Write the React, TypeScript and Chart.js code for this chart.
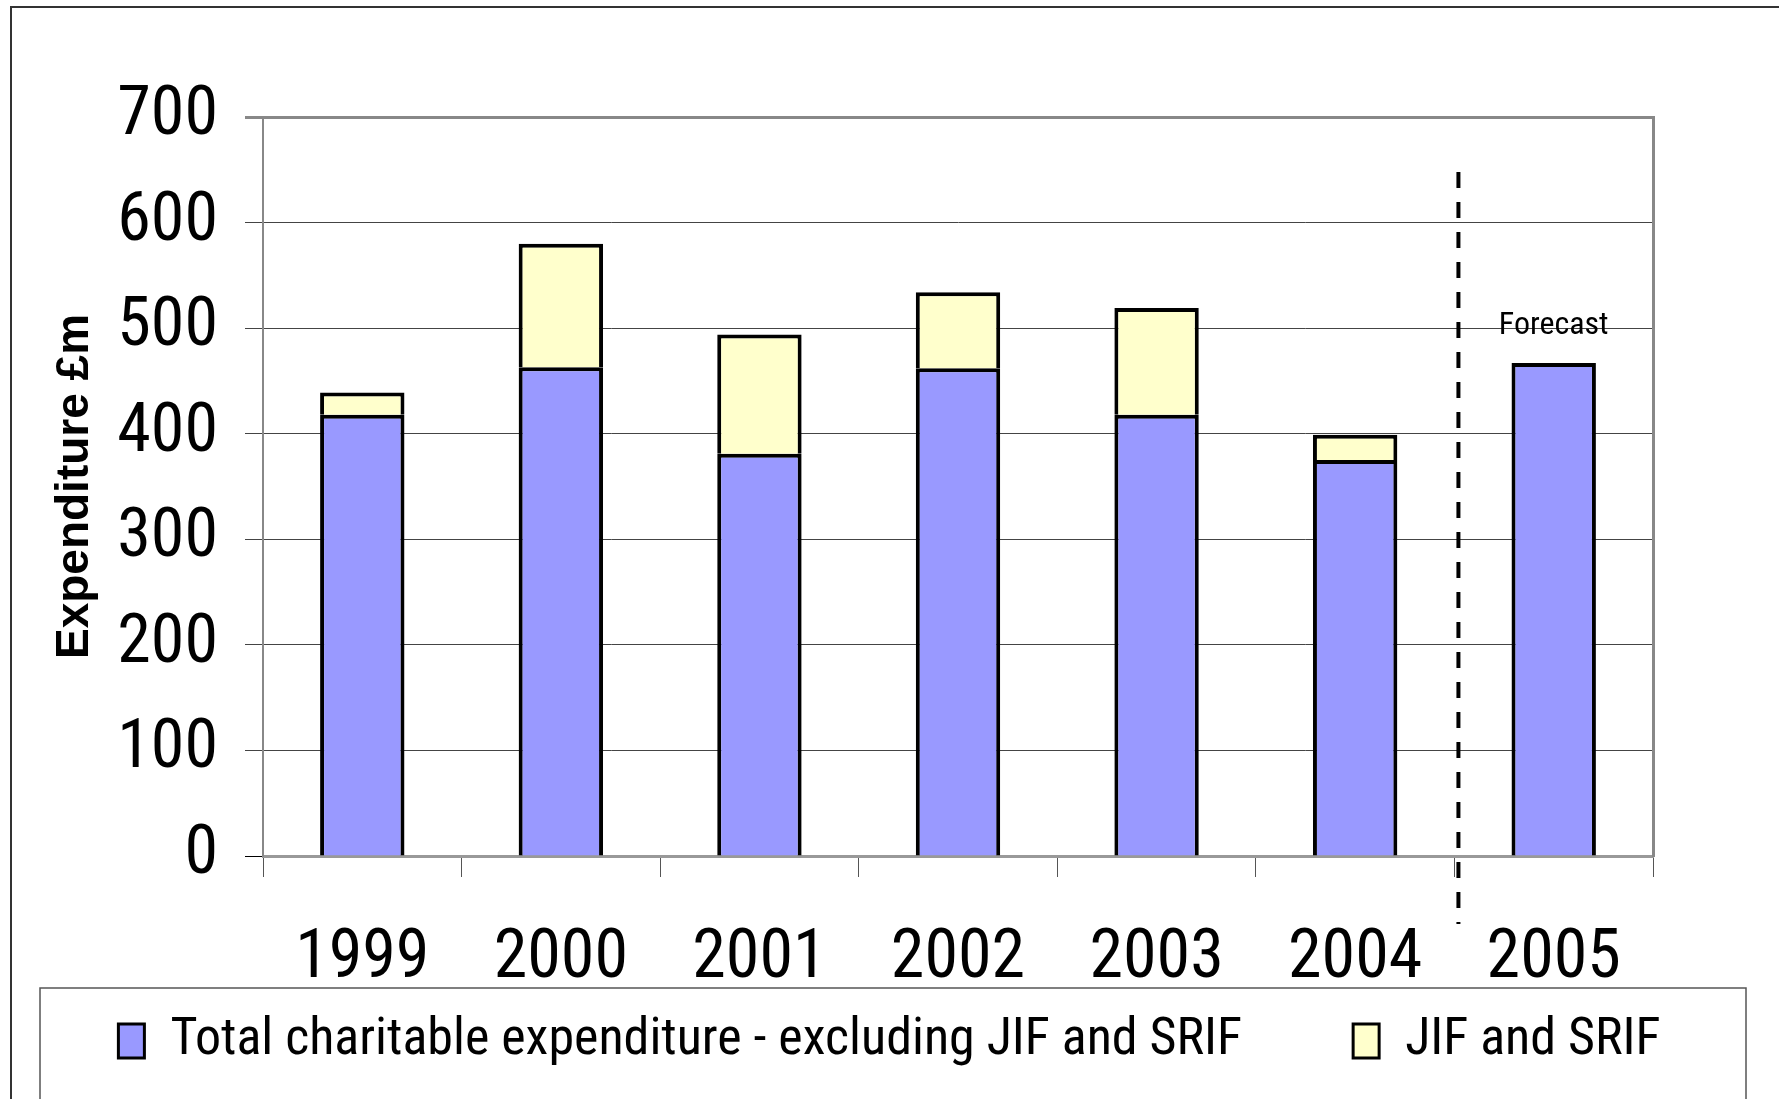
import React, { useEffect, useRef } from 'react';
import { Chart, registerables } from 'chart.js';

Chart.register(...registerables);

// ---------- data ----------
const years = ['1999', '2000', '2001', '2002', '2003', '2004', '2005'];
const coreExpenditure = [418, 463, 381, 462, 418, 375, 467];
const jifSrif: (number | null)[] = [21, 117, 113, 72, 101, 24, null];
const seriesNames = ['Total charitable expenditure - excluding JIF and SRIF', 'JIF and SRIF'];
const yAxisTitle = 'Expenditure £m';
const forecastLabel = 'Forecast';
const forecastIndex = 6;
const yMin = 0;
const yMax = 700;
const yStep = 100;

const NARROW = "'Roboto Condensed', 'Liberation Sans', Arial, sans-serif";
const SANS = "'Liberation Sans', Arial, sans-serif";

const W = 1779;
const H = 1099;
const CHART_LEFT = 263;
const CHART_RIGHT_GAP = 126;
const CHART_TOP = 117;
const CHART_BOTTOM = 856;
const PAD_BOTTOM = 22;

const decorations = {
  id: 'decorations',
  afterDraw(chart: any) {
    const { ctx, chartArea, scales } = chart;
    const x = scales.x;
    const y = scales.y;
    ctx.save();
    // outer frame
    ctx.strokeStyle = '#333';
    ctx.lineWidth = 2;
    ctx.beginPath();
    ctx.moveTo(11, H + 2);
    ctx.lineTo(11, 7);
    ctx.lineTo(W + 2, 7);
    ctx.stroke();
    // legend frame
    ctx.strokeStyle = '#555';
    ctx.lineWidth = 1.5;
    ctx.beginPath();
    ctx.moveTo(40, H + 2);
    ctx.lineTo(40, 988);
    ctx.lineTo(1746, 988);
    ctx.lineTo(1746, H + 2);
    ctx.stroke();
    // dashed forecast divider
    const dx = x.getPixelForValue(forecastIndex - 0.5) + 4;
    ctx.strokeStyle = '#000';
    ctx.lineWidth = 4;
    ctx.setLineDash([16, 14]);
    ctx.beginPath();
    ctx.moveTo(dx, y.getPixelForValue(648));
    ctx.lineTo(dx, chartArea.bottom + 68);
    ctx.stroke();
    ctx.setLineDash([]);
    // forecast label
    ctx.fillStyle = '#000';
    ctx.font = `32px ${NARROW}`;
    ctx.textAlign = 'center';
    ctx.textBaseline = 'alphabetic';
    ctx.fillText(forecastLabel, x.getPixelForValue(forecastIndex), y.getPixelForValue(494));
    ctx.restore();
  },
};

export default function App() {
  const canvasRef = useRef<HTMLCanvasElement | null>(null);

  useEffect(() => {
    document.body.style.margin = '0';
    const canvas = canvasRef.current;
    if (!canvas) return;
    const chart = new Chart(canvas, {
      type: 'bar',
      data: {
        labels: years,
        datasets: [
          {
            label: seriesNames[0],
            data: coreExpenditure,
            backgroundColor: '#9999FF',
            borderColor: '#000',
            borderWidth: 4,
            categoryPercentage: 1,
            barPercentage: 0.425,
          },
          {
            label: seriesNames[1],
            data: jifSrif,
            backgroundColor: '#FFFFCC',
            borderColor: '#000',
            borderWidth: 4,
            categoryPercentage: 1,
            barPercentage: 0.425,
          },
        ],
      },
      options: {
        animation: false,
        responsive: false,
        maintainAspectRatio: false,
        devicePixelRatio: 1,
        layout: { padding: { left: 0, top: CHART_TOP, right: 0, bottom: PAD_BOTTOM } },
        plugins: {
          tooltip: { enabled: false },
          title: { display: false },
          legend: {
            display: true,
            position: 'bottom',
            align: 'center',
            labels: {
              color: '#000',
              font: { family: NARROW, size: 52 },
              boxWidth: 26,
              boxHeight: 34,
              padding: 111,
              generateLabels: (c: any) =>
                Chart.defaults.plugins.legend.labels.generateLabels(c).map((l: any) => ({
                  ...l,
                  lineWidth: 3,
                })),
            },
          },
        },
        scales: {
          x: {
            stacked: true,
            offset: true,
            grid: {
              display: true,
              offset: true,
              drawOnChartArea: false,
              drawTicks: true,
              tickLength: 21,
              color: '#555',
              lineWidth: 1,
            },
            border: { display: true, color: '#999', width: 3 },
            ticks: {
              color: '#000',
              font: { family: NARROW, size: 68 },
              mirror: true,
              padding: -145,
              maxRotation: 0,
              autoSkip: false,
            },
            afterFit: (s: any) => {
              const lh = s.chart.legend ? s.chart.legend.height : 0;
              s.height = Math.max(H - PAD_BOTTOM - CHART_BOTTOM - lh, 10);
            },
          },
          y: {
            stacked: true,
            min: yMin,
            max: yMax,
            ticks: {
              stepSize: yStep,
              color: '#000',
              font: { family: NARROW, size: 68 },
              padding: 27,
            },
            grid: {
              color: (c: any) => (c.tick && c.tick.value === yMax ? '#888' : c.tick && c.tick.value === 0 ? '#000' : '#444'),
              lineWidth: (c: any) => (c.tick && c.tick.value === yMax ? 3 : 1),
              tickLength: 18,
            },
            border: { display: true, color: '#888', width: 2 },
            title: {
              display: true,
              text: yAxisTitle,
              color: '#000',
              font: { family: SANS, size: 46, weight: 'bold' },
              padding: { top: 48, bottom: 0 },
            },
            afterFit: (s: any) => {
              s.width = CHART_LEFT;
            },
          },
          yRight: {
            position: 'right',
            min: yMin,
            max: yMax,
            display: true,
            ticks: { display: false },
            grid: { display: false },
            border: { display: true, color: '#888', width: 3 },
            afterFit: (s: any) => {
              s.width = CHART_RIGHT_GAP;
            },
          },
        },
      },
      plugins: [decorations],
    } as any);
    return () => chart.destroy();
  }, []);

  return (
    <div style={{ position: 'absolute', left: 0, top: 0, width: W, height: H, background: '#fff' }}>
      <canvas ref={canvasRef} width={W} height={H} style={{ display: 'block', width: W, height: H }} />
    </div>
  );
}
